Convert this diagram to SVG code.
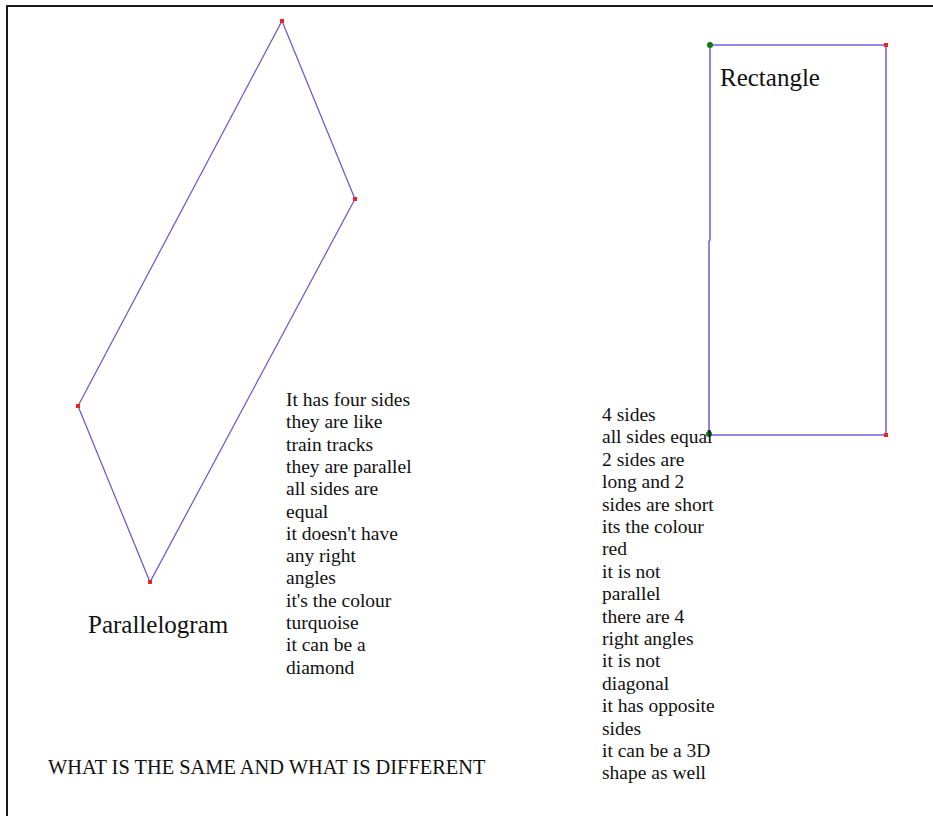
<svg xmlns="http://www.w3.org/2000/svg" width="933" height="816" viewBox="0 0 933 816">
<style>
.bg{fill:#ffffff}
.frame{stroke:#1a1a1a;stroke-width:2;fill:none}
.edge{fill:none;stroke:#6554d6;stroke-width:1.2}
.redge{fill:none;stroke:#7763e2;stroke-width:1.6}
.rdot{fill:#ee2222}
.gdot{fill:#0b7a14}
.body{font-family:"Liberation Serif","Times New Roman",serif;font-size:19.5px;fill:#111}
.title{font-family:"Liberation Serif","Times New Roman",serif;font-size:25px;fill:#111}
.head{font-family:"Liberation Serif","Times New Roman",serif;font-size:20.4px;fill:#111}
</style>
<rect class="bg" x="0" y="0" width="933" height="816"/>
<g id="frame">
<line class="frame" x1="7" y1="6" x2="933" y2="6"/>
<line class="frame" x1="7" y1="5" x2="7" y2="816"/>
</g>
<g id="parallelogram">
<polygon class="edge" points="282,21 355,199 150,582 78,406"/>
<rect class="rdot" x="280" y="19" width="4" height="4"/>
<rect class="rdot" x="353" y="197" width="4" height="4"/>
<rect class="rdot" x="148" y="580" width="4" height="4"/>
<rect class="rdot" x="76" y="404" width="4" height="4"/>
<text class="title" x="88" y="633">Parallelogram</text>
</g>
<g id="rectangle">
<polyline class="redge" points="709,435 886,435 886,45 710,45 710,240 709,241 709,435"/>
<rect class="rdot" x="884" y="43" width="4" height="4"/>
<rect class="rdot" x="884" y="433" width="4" height="4"/>
<circle class="gdot" cx="710" cy="45" r="3"/>
<circle class="gdot" cx="709" cy="434" r="3"/>
<text class="title" x="720" y="86">Rectangle</text>
</g>
<g id="parallelogram-notes">
<text class="body" x="286" y="406">It has four sides</text>
<text class="body" x="286" y="428.3">they are like</text>
<text class="body" x="286" y="450.6">train tracks</text>
<text class="body" x="286" y="472.9">they are parallel</text>
<text class="body" x="286" y="495.2">all sides are</text>
<text class="body" x="286" y="517.5">equal</text>
<text class="body" x="286" y="539.8">it doesn't have</text>
<text class="body" x="286" y="562.1">any right</text>
<text class="body" x="286" y="584.4">angles</text>
<text class="body" x="286" y="606.7">it's the colour</text>
<text class="body" x="286" y="629">turquoise</text>
<text class="body" x="286" y="651.3">it can be a</text>
<text class="body" x="286" y="673.6">diamond</text>
</g>
<g id="rectangle-notes">
<text class="body" x="602" y="421">4 sides</text>
<text class="body" x="602" y="443.4">all sides equal</text>
<text class="body" x="602" y="465.8">2 sides are</text>
<text class="body" x="602" y="488.2">long and 2</text>
<text class="body" x="602" y="510.6">sides are short</text>
<text class="body" x="602" y="533">its the colour</text>
<text class="body" x="602" y="555.4">red</text>
<text class="body" x="602" y="577.8">it is not</text>
<text class="body" x="602" y="600.2">parallel</text>
<text class="body" x="602" y="622.6">there are 4</text>
<text class="body" x="602" y="645">right angles</text>
<text class="body" x="602" y="667.4">it is not</text>
<text class="body" x="602" y="689.8">diagonal</text>
<text class="body" x="602" y="712.2">it has opposite</text>
<text class="body" x="602" y="734.6">sides</text>
<text class="body" x="602" y="757">it can be a 3D</text>
<text class="body" x="602" y="779.4">shape as well</text>
</g>
<g id="question">
<text class="head" x="48" y="774">WHAT IS THE SAME AND WHAT IS DIFFERENT</text>
</g>
</svg>
